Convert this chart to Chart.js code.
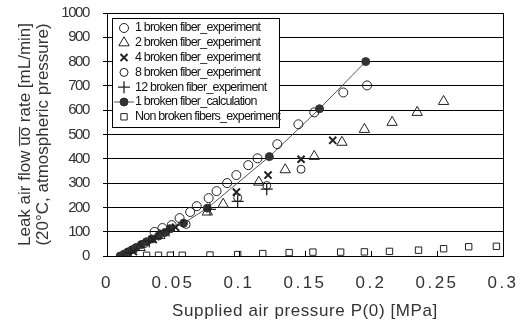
<!DOCTYPE html>
<html>
<head>
<meta charset="utf-8">
<script src="https://cdn.jsdelivr.net/npm/chart.js@4.4.1/dist/chart.umd.min.js"></script>
<style>
  html, body { margin: 0; padding: 0; background: #fff; }
</style>
</head>
<body>
<canvas id="leakChart" width="526" height="333"></canvas>
<script>
// series labels (legend order)
const seriesLabels = [
    '1 broken fiber_experiment',
    '2 broken fiber_experiment',
    '4 broken fiber_experiment',
    '8 broken fiber_experiment',
    '12 broken fiber_experiment',
    '1 broken fiber_calculation',
    'Non broken fibers_experiment'
];

// supplied pressure P(0) [MPa] and leak flow [mL/min]
const oneBrokenP = [0.036, 0.042, 0.049, 0.055, 0.063, 0.068, 0.077, 0.083, 0.091, 0.098, 0.107, 0.114, 0.129, 0.145, 0.157, 0.179, 0.197];
const oneBrokenQ = [99, 115, 127, 156, 181, 205, 238, 267, 300, 333, 374, 402, 460, 542, 591, 673, 702];

const twoBrokenP = [0.015, 0.025, 0.040, 0.076, 0.088, 0.115, 0.135, 0.157, 0.178, 0.195, 0.216, 0.235, 0.255];
const twoBrokenQ = [8, 35, 85, 181, 213, 304, 355, 410, 468, 521, 550, 591, 636];

const fourBrokenP = [0.020, 0.035, 0.052, 0.098, 0.122, 0.147, 0.171];
const fourBrokenQ = [18, 68, 118, 263, 333, 398, 476];

const eightBrokenP = [0.028, 0.060, 0.099, 0.121, 0.147];
const eightBrokenQ = [50, 130, 240, 290, 357];

const twelveBrokenP = [0.018, 0.032, 0.047, 0.078, 0.099, 0.121];
const twelveBrokenQ = [14, 60, 105, 192, 225, 275];

const calcP = [0.010, 0.013, 0.016, 0.019, 0.022, 0.026, 0.030, 0.034, 0.039, 0.044, 0.048, 0.058, 0.076, 0.123, 0.161, 0.196];
const calcQ = [0, 8, 17, 26, 35, 47, 59, 70, 82, 97, 112, 135, 197, 409, 606, 800];

const nonBrokenP = [0.030, 0.039, 0.048, 0.057, 0.078, 0.099, 0.118, 0.138, 0.156, 0.177, 0.195, 0.214, 0.236, 0.255, 0.274, 0.295];
const nonBrokenQ = [3, 3, 3, 3, 4, 6, 10, 14, 16, 16, 17, 19, 24, 30, 38, 40];

// axis ticks
const xTicks = [0, 0.05, 0.1, 0.15, 0.2, 0.25, 0.3];
const yTicks = [0, 100, 200, 300, 400, 500, 600, 700, 800, 900, 1000];

const pairs = (xs, ys) => xs.map((x, i) => ({ x: x, y: ys[i] }));

const plain = '"Liberation Sans", Arial, sans-serif';
const ink = '#222';

// letter spacing per axis text (the scanned chart has wide x labels, narrow y labels)
const spacing = {
    x: { labels: '2.5px', title: '0.6px' },
    y: { labels: '-1.4px', title: '0px' }
};

// draws the boxed legend in the upper left of the plot, plus the frame
const boxLegend = {
    id: 'boxLegend',
    afterLayout(chart) {
        Object.keys(spacing).forEach(id => {
            const s = chart.scales[id];
            if (s._spaced) return;
            const dl = s.drawLabels.bind(s), dt = s.drawTitle.bind(s);
            s.drawLabels = function (a) { chart.ctx.letterSpacing = spacing[id].labels; dl(a); chart.ctx.letterSpacing = '0px'; };
            s.drawTitle = function (a) { chart.ctx.letterSpacing = spacing[id].title; dt(a); chart.ctx.letterSpacing = '0px'; };
            s._spaced = true;
        });
    },
    afterDraw(chart) {
        const ctx = chart.ctx;
        const a = chart.chartArea;
        const xs = chart.scales.x;
        ctx.save();
        ctx.letterSpacing = '0px';
        ctx.strokeStyle = '#000';
        ctx.lineWidth = 1;
        ctx.strokeRect(Math.round(a.left) + 0.5, Math.round(a.top) + 0.5,
            Math.round(a.right - a.left), Math.round(a.bottom - a.top));

        // short inward tick marks on the x axis
        ctx.beginPath();
        xTicks.forEach(v => {
            const px = Math.round(xs.getPixelForValue(v)) + 0.5;
            ctx.moveTo(px, a.bottom);
            ctx.lineTo(px, a.bottom - 5);
        });
        ctx.stroke();

        const bx = Math.round(a.left) + 5, by = Math.round(a.top) + 5, bw = 167, bh = 109;
        ctx.fillStyle = '#fff';
        ctx.fillRect(bx, by, bw, bh);
        ctx.strokeRect(bx + 0.5, by + 0.5, bw, bh);

        ctx.font = '12.5px ' + plain;
        ctx.letterSpacing = '-0.8px';
        ctx.textBaseline = 'middle';
        chart.data.datasets.forEach((ds, i) => {
            const y = by + 10 + i * 14.8;
            const mx = bx + 12;
            if (ds.showLine) {
                ctx.strokeStyle = ds.borderColor;
                ctx.lineWidth = 1;
                ctx.beginPath();
                ctx.moveTo(bx + 2, y);
                ctx.lineTo(bx + 22, y);
                ctx.stroke();
            }
            ctx.strokeStyle = ds.pointBorderColor;
            ctx.fillStyle = ds.pointBackgroundColor;
            ctx.lineWidth = ds.pointBorderWidth;
            Chart.helpers.drawPoint(ctx, {
                pointStyle: ds.pointStyle,
                radius: ds.pointRadius,
                rotation: 0,
                borderWidth: ds.pointBorderWidth
            }, mx, y);
            ctx.fillStyle = '#111';
            ctx.fillText(ds.label, bx + 23, y);
        });
        ctx.restore();
    }
};

function series(i, xs, ys, style, radius, width, fill) {
    return {
        label: seriesLabels[i],
        data: pairs(xs, ys),
        pointStyle: style,
        pointRadius: radius,
        pointBorderWidth: width,
        pointBorderColor: ink,
        pointBackgroundColor: fill,
        borderColor: ink,
        showLine: false
    };
}

const datasets = [
    series(0, oneBrokenP, oneBrokenQ, 'circle', 4.5, 1, 'rgba(255,255,255,0)'),
    series(1, twoBrokenP, twoBrokenQ, 'triangle', 6, 1, 'rgba(255,255,255,0)'),
    series(2, fourBrokenP, fourBrokenQ, 'crossRot', 5, 2, ink),
    series(3, eightBrokenP, eightBrokenQ, 'circle', 4, 1, 'rgba(255,255,255,0)'),
    series(4, twelveBrokenP, twelveBrokenQ, 'cross', 6, 1.3, ink),
    Object.assign(series(5, calcP, calcQ, 'circle', 4, 1, '#333'), {
        showLine: true, borderColor: '#555', borderWidth: 1, pointBorderColor: '#333'
    }),
    series(6, nonBrokenP, nonBrokenQ, 'rect', 4.5, 1, 'rgba(255,255,255,0)')
];

const ctx = document.getElementById('leakChart').getContext('2d');
const leakChart = new Chart(ctx, {
    type: 'scatter',
    data: { datasets: datasets },
    plugins: [boxLegend],
    options: {
        responsive: false,
        animation: false,
        devicePixelRatio: 1,
        layout: { padding: { top: 13, right: 23, left: 0, bottom: 0 } },
        plugins: { legend: { display: false }, tooltip: { enabled: false } },
        scales: {
            x: {
                type: 'linear',
                min: 0,
                max: 0.3,
                afterBuildTicks: s => { s.ticks = xTicks.map(v => ({ value: v })); },
                afterFit: s => { s.height = 77; s.paddingLeft = 0; s.paddingRight = 0; },
                grid: { display: false, drawTicks: false },
                border: { display: true, color: '#000', width: 1 },
                ticks: {
                    color: '#333',
                    font: { family: plain, size: 17 },
                    padding: 17,
                    maxRotation: 0,
                    callback: v => String(+v.toFixed(2))
                },
                title: {
                    display: true,
                    text: 'Supplied air pressure P(0) [MPa]',
                    color: '#333',
                    font: { family: plain, size: 17 },
                    padding: { top: 0, bottom: 11 }
                }
            },
            y: {
                min: 0,
                max: 1000,
                afterBuildTicks: s => { s.ticks = yTicks.map(v => ({ value: v })); },
                afterFit: s => { s.width = 107; s.paddingTop = 0; s.paddingBottom = 0; },
                grid: { color: '#000', lineWidth: 1, drawTicks: true, tickLength: 4, tickColor: '#000' },
                border: { display: true, color: '#000', width: 1 },
                ticks: {
                    color: '#333',
                    font: { family: plain, size: 15 },
                    padding: 14,
                    callback: v => String(v)
                },
                title: {
                    display: true,
                    text: ['Leak air flow u\u0305o\u0305 rate [mL/min]', '(20\u00b0C, atmospheric pressure)'],
                    color: '#333',
                    font: { family: plain, size: 17, lineHeight: 1.09 },
                    padding: { top: 16, bottom: 0 }
                }
            }
        }
    }
});
</script>
</body>
</html>
